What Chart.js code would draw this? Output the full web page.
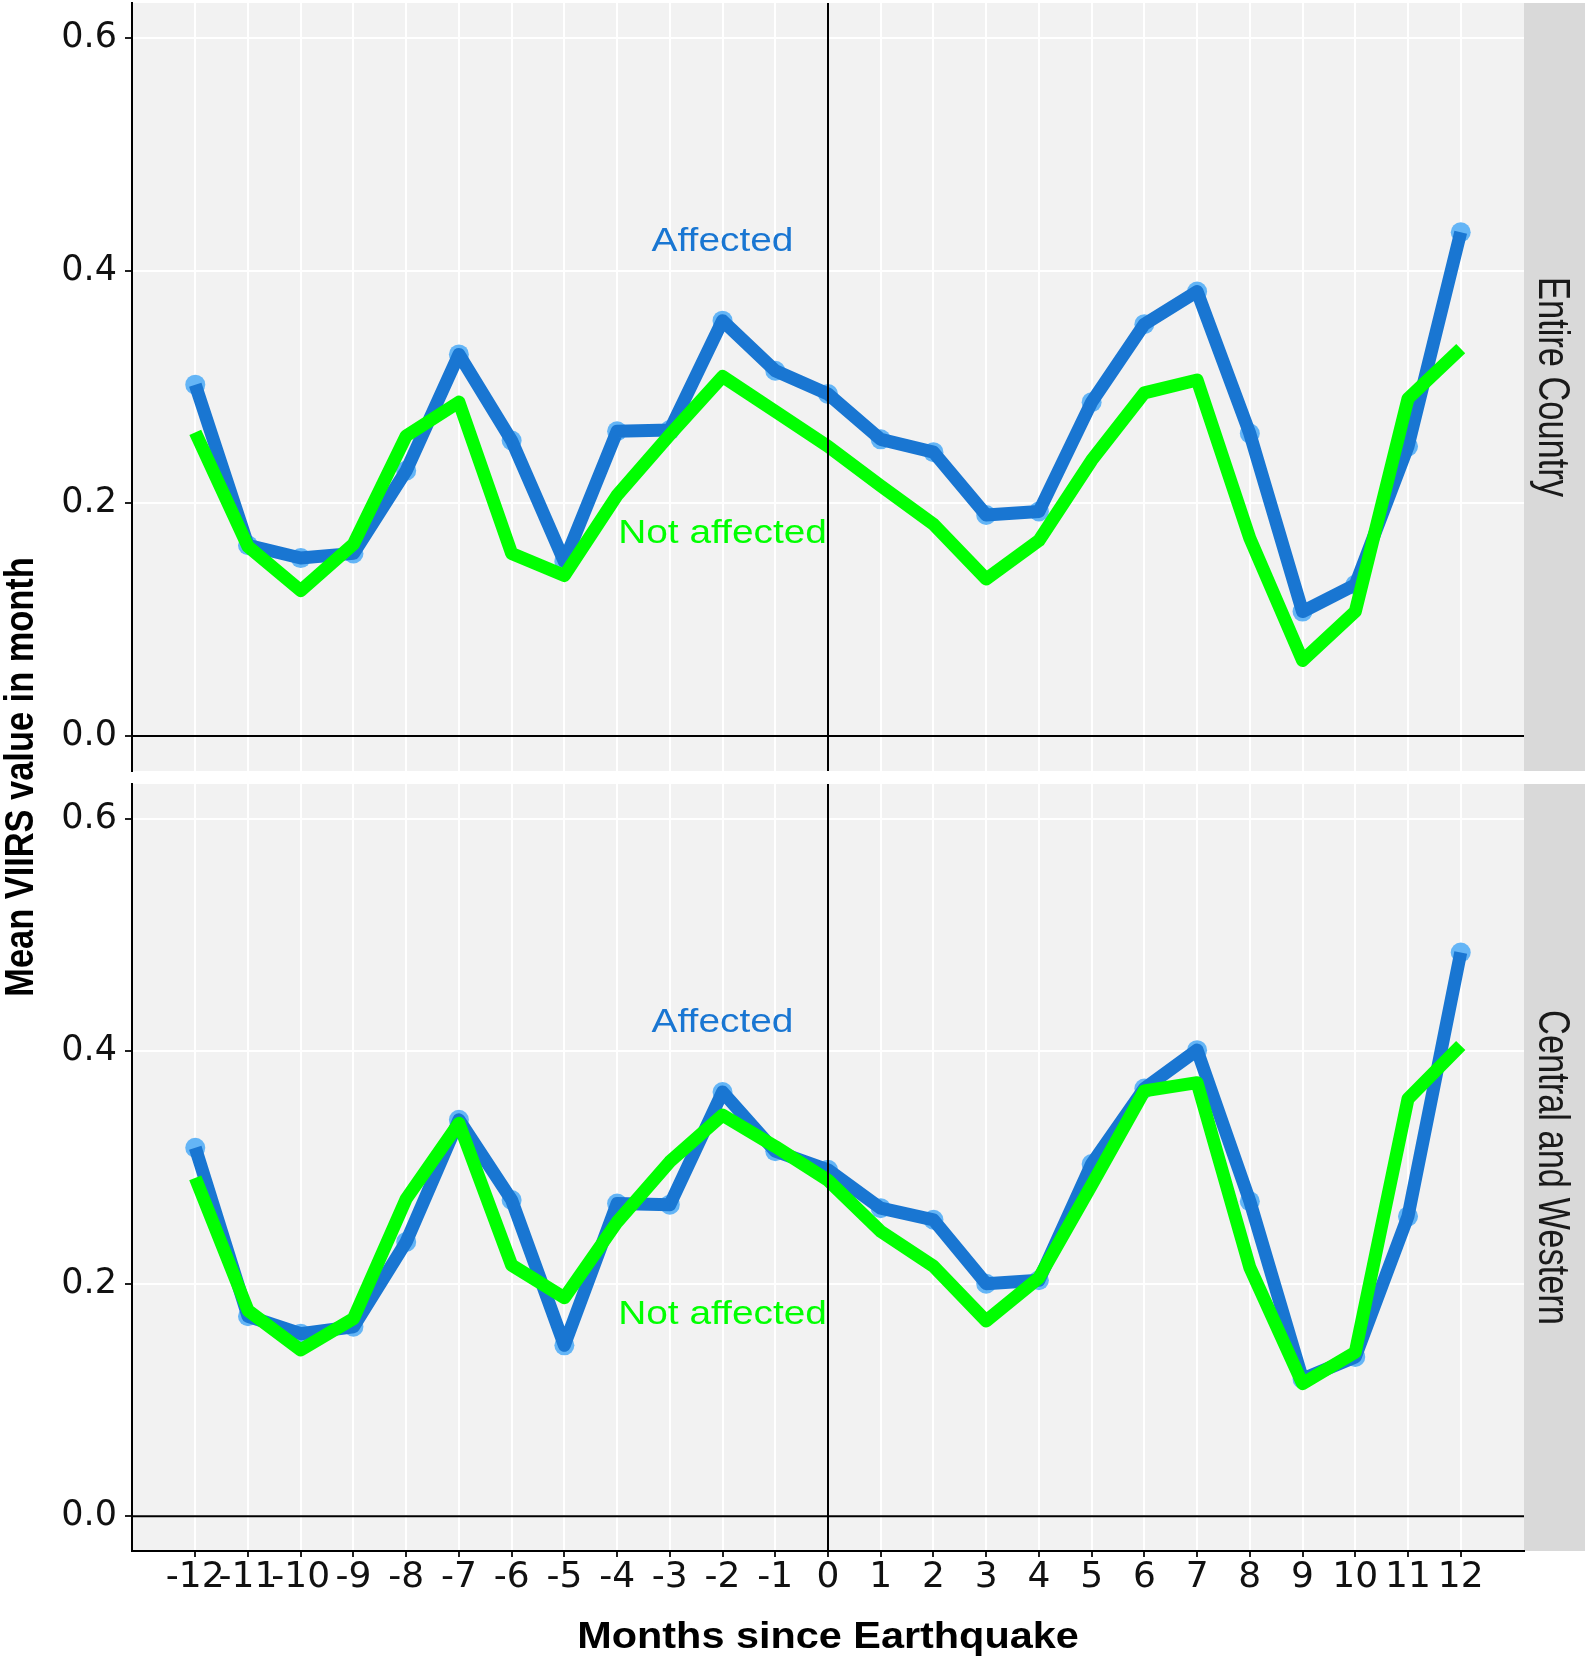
<!DOCTYPE html>
<html>
<head>
<meta charset="utf-8">
<script src="https://cdn.jsdelivr.net/npm/chart.js@4.4.1/dist/chart.umd.min.js"></script>
<style>
  html, body { margin: 0; padding: 0; background: #fff; }
  #wrap { position: relative; width: 1590px; height: 1657px; }
  #wrap canvas { position: absolute; left: 0; top: 0; }
</style>
</head>
<body>
<div id="wrap">
  <canvas id="topPanel" width="1590" height="1657"></canvas>
  <canvas id="bottomPanel" width="1590" height="1657"></canvas>
</div>
<script>
// data
const months = [-12, -11, -10, -9, -8, -7, -6, -5, -4, -3, -2, -1, 0, 1, 2, 3, 4, 5, 6, 7, 8, 9, 10, 11, 12];
const yTicks = [0, 0.2, 0.4, 0.6];
const panelNames = ["Entire Country", "Central and Western"];

const entireAffected = [0.302, 0.164, 0.153, 0.157, 0.228, 0.328, 0.254, 0.150, 0.262, 0.263, 0.357, 0.314,
  0.294, 0.255, 0.244, 0.190, 0.193, 0.287, 0.354, 0.382, 0.260, 0.107, 0.130, 0.249, 0.433];
const entireNotAffected = [0.261, 0.163, 0.125, 0.165, 0.258, 0.287, 0.157, 0.138, 0.207, 0.259, 0.309, 0.279,
  0.249, 0.215, 0.182, 0.135, 0.168, 0.237, 0.295, 0.306, 0.170, 0.065, 0.107, 0.290, 0.333];
const centralAffected = [0.317, 0.172, 0.157, 0.163, 0.236, 0.341, 0.272, 0.147, 0.269, 0.268, 0.365, 0.314,
  0.298, 0.265, 0.255, 0.200, 0.203, 0.303, 0.368, 0.401, 0.271, 0.118, 0.137, 0.258, 0.485];
const centralNotAffected = [0.291, 0.177, 0.143, 0.170, 0.273, 0.338, 0.216, 0.188, 0.253, 0.305, 0.345, 0.318,
  0.289, 0.245, 0.215, 0.168, 0.205, 0.285, 0.366, 0.373, 0.214, 0.114, 0.141, 0.359, 0.405];

const labelTexts = ["Affected", "Not affected"];
const labelX = [-2, -2];
const labelY = [0.427, 0.176];

const panelAffected = [entireAffected, centralAffected];
const panelNotAffected = [entireNotAffected, centralNotAffected];

const BLUE = "#1976D2";
const BLUE_PT = "#64B5F6";
const GREEN = "#00FF00";

// text centred on (cx, cy); sx scales along the baseline, sy across it
function stretchText(ctx, text, cx, cy, size, weight, sx, sy, angle, color) {
  ctx.save();
  ctx.font = weight + " " + size + "px 'Liberation Sans', Arial, sans-serif";
  ctx.translate(cx, cy);
  ctx.rotate(angle);
  ctx.scale(sx, sy);
  ctx.fillStyle = color;
  ctx.textAlign = "center";
  ctx.textBaseline = "alphabetic";
  ctx.fillText(text, 0, size * 0.716 / 2);
  ctx.restore();
}

const panelPlugin = {
  id: "panelPlugin",
  beforeDraw(chart, args, opts) {
    const { ctx, chartArea: a } = chart;
    ctx.save();
    ctx.fillStyle = "#F2F2F2";
    ctx.fillRect(a.left, a.top, a.right - a.left, a.bottom - a.top);
    // facet strip
    ctx.fillStyle = "#D9D9D9";
    ctx.fillRect(a.right, a.top, 61, a.bottom - a.top);
    ctx.restore();
    stretchText(ctx, panelNames[opts.panel], a.right + 30.5, (a.top + a.bottom) / 2,
      34.4, "normal", 1, 1.27, Math.PI / 2, "#1A1A1A");
  },
  afterDatasetsDraw(chart, args, opts) {
    const { ctx, chartArea: a, scales } = chart;
    const x0 = scales.x.getPixelForValue(0);
    const y0 = scales.y.getPixelForValue(0);
    ctx.save();
    ctx.strokeStyle = "#000";
    ctx.lineWidth = 2;
    ctx.beginPath();
    ctx.moveTo(x0, a.top);
    ctx.lineTo(x0, a.bottom);
    ctx.moveTo(a.left, y0);
    ctx.lineTo(a.right, y0);
    ctx.stroke();
    ctx.restore();

    const colors = [BLUE, GREEN];
    labelTexts.forEach((t, i) => {
      stretchText(ctx, t, scales.x.getPixelForValue(labelX[i]), scales.y.getPixelForValue(labelY[i]),
        33.5, "normal", 1.16, 1, 0, colors[i]);
    });
  },
  afterDraw(chart, args, opts) {
    if (opts.panel !== 1) return;
    const { ctx, chartArea: a } = chart;
    stretchText(ctx, "Months since Earthquake", (a.left + a.right) / 2, 1635,
      36, "bold", 1.15, 1, 0, "#000");
    stretchText(ctx, "Mean VIIRS value in month", 19, 777,
      34.4, "bold", 1, 1.16, -Math.PI / 2, "#000");
  }
};

function makePanel(canvasId, p) {
  const isBottom = p === 1;
  const toPts = arr => months.map((m, i) => ({ x: m, y: arr[i] }));
  return new Chart(document.getElementById(canvasId), {
    type: "line",
    data: {
      datasets: [
        {
          label: "Affected points",
          data: toPts(panelAffected[p]),
          showLine: false,
          pointRadius: 10,
          pointBackgroundColor: BLUE_PT,
          pointBorderWidth: 0,
          order: 3
        },
        {
          label: "Affected",
          data: toPts(panelAffected[p]),
          borderColor: BLUE,
          borderWidth: 13,
          borderJoinStyle: "round",
          pointRadius: 0,
          order: 2
        },
        {
          label: "Not affected",
          data: toPts(panelNotAffected[p]),
          borderColor: GREEN,
          borderWidth: 13,
          borderJoinStyle: "round",
          pointRadius: 0,
          order: 1
        }
      ]
    },
    options: {
      responsive: false,
      animation: false,
      devicePixelRatio: 1,
      layout: {
        autoPadding: false,
        padding: { top: isBottom ? 784 : 3, right: 66, bottom: isBottom ? 0 : 886, left: 0 }
      },
      plugins: {
        legend: { display: false },
        tooltip: { enabled: false },
        panelPlugin: { panel: p }
      },
      scales: {
        x: {
          type: "linear",
          min: -13.2,
          max: 13.2,
          afterBuildTicks: s => { s.ticks = months.map(v => ({ value: v })); },
          afterFit: s => { s.height = isBottom ? 106 : 0; s.paddingLeft = 0; s.paddingRight = 0; },
          grid: { color: "#FFFFFF", lineWidth: 2, drawTicks: isBottom, tickLength: 6, tickColor: "#222", tickWidth: 2 },
          border: { display: isBottom, color: "#000", width: 2 },
          ticks: {
            display: isBottom,
            autoSkip: false,
            maxRotation: 0,
            minRotation: 0,
            padding: 3,
            color: "#111",
            font: { family: "DejaVu Sans", size: 36, lineHeight: 1 },
            callback: v => String(v)
          }
        },
        y: {
          type: "linear",
          min: -0.03,
          max: 0.63,
          afterBuildTicks: s => { s.ticks = yTicks.map(v => ({ value: v })); },
          afterFit: s => { s.width = 132; s.paddingTop = 0; s.paddingBottom = 0; },
          grid: { color: "#FFFFFF", lineWidth: 2, tickLength: 7, tickColor: "#222", tickWidth: 2 },
          border: { color: "#000", width: 2 },
          ticks: {
            padding: 8,
            color: "#111",
            font: { family: "DejaVu Sans", size: 35, lineHeight: 1 },
            callback: v => v.toFixed(1)
          }
        }
      }
    },
    plugins: [panelPlugin]
  });
}

makePanel("topPanel", 0);
makePanel("bottomPanel", 1);
</script>
</body>
</html>
